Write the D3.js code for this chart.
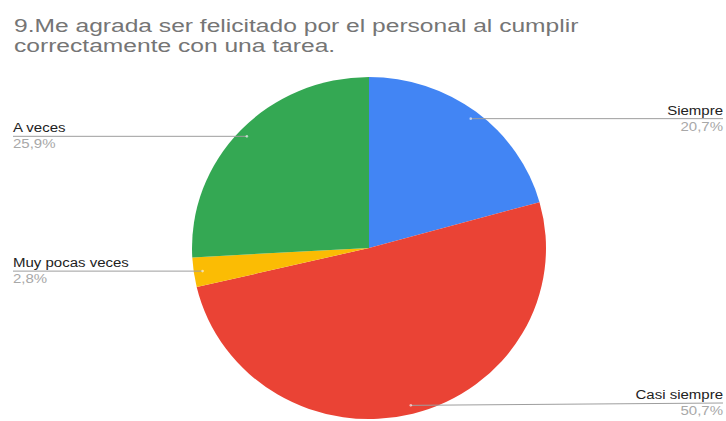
<!DOCTYPE html>
<html>
<head>
<meta charset="utf-8">
<script src="https://cdn.jsdelivr.net/npm/d3@7"></script>
<style>
  html, body { margin: 0; padding: 0; background: #fff; }
  svg { display: block; }
  text { font-family: "Liberation Sans", Arial, sans-serif; }
</style>
</head>
<body>
<svg id="chart" width="726" height="421"></svg>
<script>
// Survey answers and their shares
const titleLines = [
  "9.Me agrada ser felicitado por el personal al cumplir",
  "correctamente con una tarea."
];
const categories = ["Siempre", "Casi siempre", "Muy pocas veces", "A veces"];
const values = [20.7, 50.7, 2.8, 25.9];
const percentLabels = ["20,7%", "50,7%", "2,8%", "25,9%"];
const colors = ["#4285f4", "#ea4335", "#fbbc04", "#34a853"];

const W = 726, H = 421;
const svg = d3.select("#chart");
const textStretch = 1.25;   // label text runs wide relative to its height

// Title
svg.selectAll("text.title")
  .data(titleLines)
  .join("text")
  .attr("class", "title")
  .attr("transform", (d, i) => `translate(14,${31.5 + i * 20}) scale(1.33,1)`)
  .attr("font-size", 18.5)
  .attr("fill", "#757575")
  .text(d => d);

// Pie
const cx = 369, cy = 248, R = 174;
const sx = 177 / R, sy = 171 / R;
const pie = d3.pie().sort(null).value(d => d.value);
const arcs = pie(categories.map((c, i) => ({ name: c, value: values[i], pct: percentLabels[i], color: colors[i] })));
const arc = d3.arc().innerRadius(0).outerRadius(R);

const g = svg.append("g").attr("transform", `translate(${cx},${cy}) scale(${sx},${sy})`);
g.selectAll("path")
  .data(arcs)
  .join("path")
  .attr("d", arc)
  .attr("fill", d => d.data.color);

// Leader lines and labels
const anchorArc = d3.arc().innerRadius(R * 0.95).outerRadius(R * 0.95);
const labels = svg.append("g");
arcs.forEach(d => {
  const [ax, ay] = anchorArc.centroid(d);
  const px = cx + ax * sx, py = cy + ay * sy;
  const mid = (d.startAngle + d.endAngle) / 2;
  const right = mid < Math.PI;
  const lineY = Math.min(py, H - 18);
  const endX = right ? W - 3 : 13;
  labels.append("line")
    .attr("x1", px).attr("y1", py)
    .attr("x2", endX).attr("y2", lineY)
    .attr("stroke", "#9e9e9e")
    .attr("stroke-width", 1);
  labels.append("circle")
    .attr("cx", px).attr("cy", py).attr("r", 1.3)
    .attr("fill", "#ffffff").attr("opacity", 0.6);
  const anchor = right ? "end" : "start";
  labels.append("text")
    .attr("transform", `translate(${endX},${lineY - 4}) scale(${textStretch},1)`)
    .attr("text-anchor", anchor)
    .attr("font-size", 12)
    .attr("fill", "#222222")
    .text(d.data.name);
  labels.append("text")
    .attr("transform", `translate(${endX},${lineY + 12}) scale(${textStretch},1)`)
    .attr("text-anchor", anchor)
    .attr("font-size", 12)
    .attr("fill", "#a8a8a8")
    .text(d.data.pct);
});
</script>
</body>
</html>
